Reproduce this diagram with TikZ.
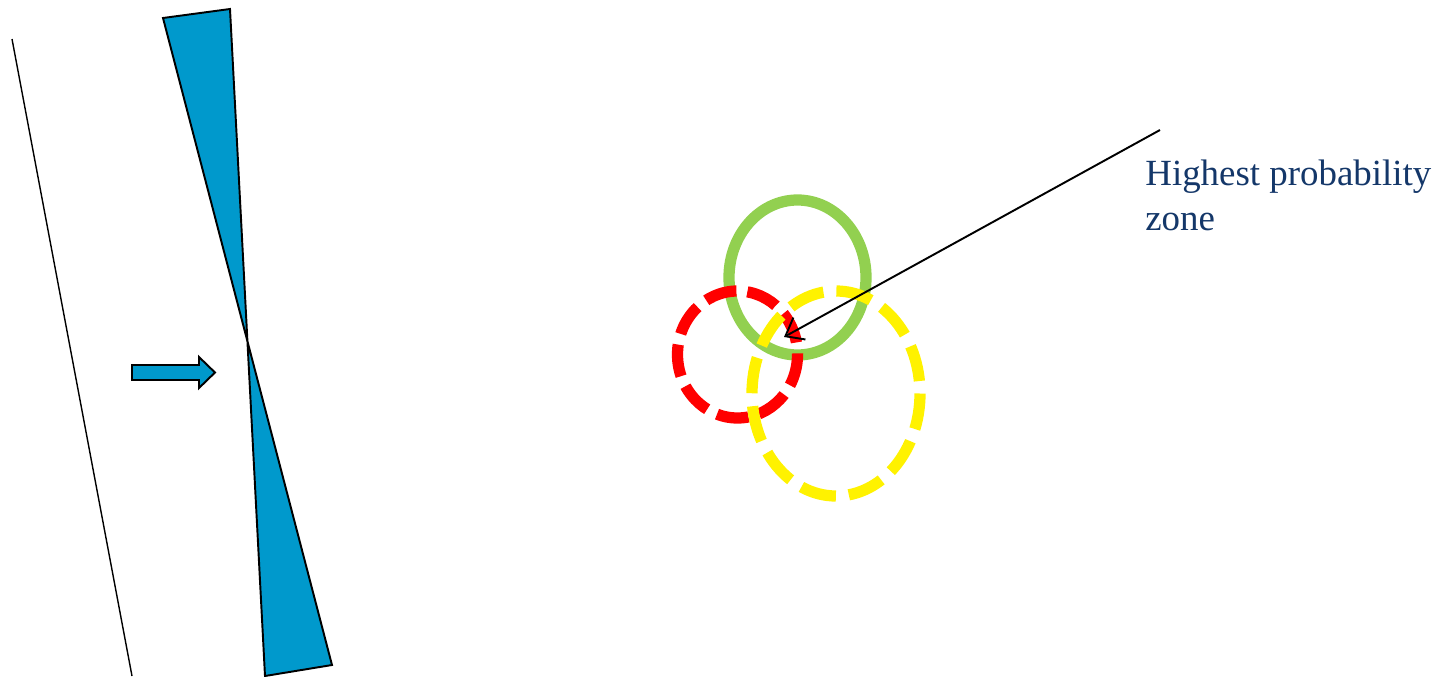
\documentclass[tikz,border=0pt]{standalone}
\usepackage{fontspec}
\setmainfont{Liberation Serif}
\usetikzlibrary{arrows.meta}
\definecolor{lensblue}{RGB}{0,153,204}
\definecolor{ringgreen}{RGB}{146,208,80}
\definecolor{notecol}{RGB}{20,55,105}
\begin{document}
\begin{tikzpicture}[x=0.02cm, y=-0.02cm,
            lens/.style={draw=black, line width=1.1pt, fill=lensblue, line join=miter},
            ring/.style={line width=0.225cm},
            note/.style={text=notecol, font=\fontsize{21}{25.5}\selectfont, align=left, inner sep=0pt}
        ]
            \useasboundingbox (0,0) rectangle (1443,676);
            \draw[line width=0.8pt] (12,39) -- (132,676);
            \draw[lens] (163,18) -- (230,9) -- (265,676) -- (332,665) -- cycle;
            \draw[lens] (132,365) -- (199,365) -- (199,357) -- (215,372.5) -- (199,388) -- (199,380) -- (132,380) -- cycle;

            \draw[ring, draw=ringgreen] (797.5,277.5) ellipse [x radius=68.5, y radius=77.5];
            \draw[ring, draw=red, dash pattern=on 0.64cm off 0.22cm] (737.5,354.5) ellipse [x radius=60, y radius=63.5];
            \draw[ring, draw=yellow, dash pattern=on 0.72cm off 0.26cm] (836,393.5) ellipse [x radius=84, y radius=102.5];

            \coordinate (zone) at (784,337);
            \coordinate (tail) at (1160,130);
            \draw[-{Straight Barb[length=0.32cm, width=0.5cm]}, line width=1.1pt] (tail) -- (zone);
            \node[note, anchor=north west] (label) at (1145,160) {Highest probability\\zone};
        \end{tikzpicture}
\end{document}
